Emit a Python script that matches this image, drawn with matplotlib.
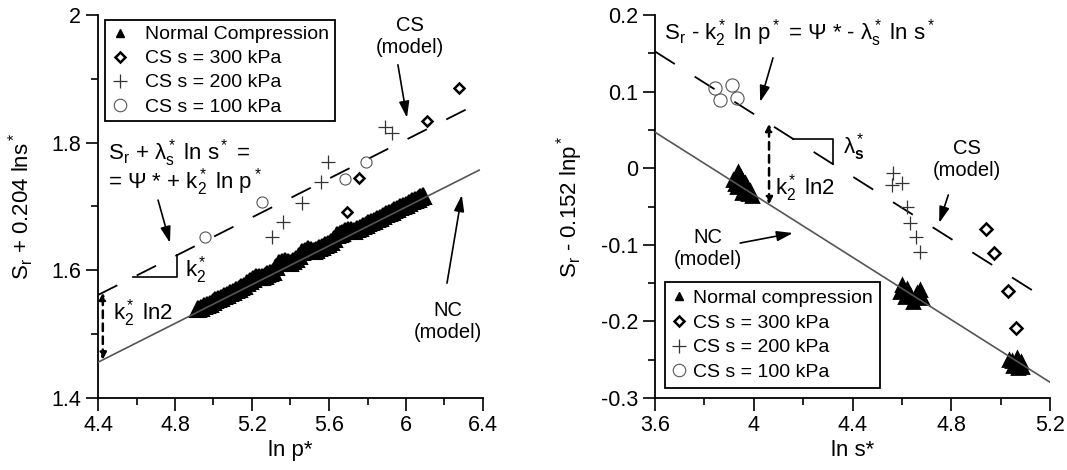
import matplotlib
matplotlib.use('Agg')
import matplotlib.pyplot as plt
from matplotlib.lines import Line2D
from matplotlib.ticker import MultipleLocator, FixedLocator, FixedFormatter
import numpy as np

plt.rcParams['font.family'] = ['Liberation Sans', 'DejaVu Sans']
plt.rcParams['mathtext.fontset'] = 'custom'
plt.rcParams['mathtext.rm'] = 'Liberation Sans'
plt.rcParams['mathtext.it'] = 'Liberation Sans'
plt.rcParams['mathtext.bf'] = 'Liberation Sans:bold'
plt.rcParams['mathtext.default'] = 'regular'
plt.rcParams['axes.unicode_minus'] = False

# ---------------- LEFT PANEL DATA ----------------
left_nc_lnp = [4.920, 4.935, 4.950, 4.965, 4.980, 4.995, 5.010, 5.025, 5.040, 5.055,
               5.070, 5.085, 5.100, 5.115, 5.130, 5.145, 5.160, 5.175, 5.190, 5.205,
               5.220, 5.235, 5.250, 5.265, 5.280, 5.295, 5.310, 5.325, 5.340, 5.355,
               5.370, 5.385, 5.400, 5.415, 5.430, 5.445, 5.460, 5.475, 5.490, 5.505,
               5.520, 5.535, 5.550, 5.565, 5.580, 5.595, 5.610, 5.625, 5.640, 5.655,
               5.670, 5.685, 5.700, 5.715, 5.730, 5.745, 5.760, 5.775, 5.790, 5.805,
               5.820, 5.835, 5.850, 5.865, 5.880, 5.895, 5.910, 5.925, 5.940, 5.955,
               5.970, 5.985, 6.000, 6.015, 6.030, 6.045, 6.060, 6.075, 6.090]
left_nc_y = [1.539, 1.5415, 1.544, 1.546, 1.548, 1.5505, 1.553, 1.555, 1.557, 1.5595,
             1.562, 1.564, 1.566, 1.5685, 1.571, 1.5735, 1.576, 1.580, 1.584, 1.5865,
             1.589, 1.589, 1.589, 1.5915, 1.594, 1.596, 1.598, 1.6045, 1.611, 1.6125,
             1.614, 1.613, 1.612, 1.6145, 1.617, 1.6225, 1.628, 1.6305, 1.633, 1.6315,
             1.630, 1.6325, 1.635, 1.637, 1.639, 1.6415, 1.644, 1.6495, 1.655, 1.657,
             1.659, 1.661, 1.663, 1.6625, 1.662, 1.6645, 1.667, 1.669, 1.671, 1.6735,
             1.676, 1.678, 1.680, 1.6825, 1.685, 1.6875, 1.690, 1.692, 1.694, 1.6965,
             1.699, 1.701, 1.703, 1.7055, 1.708, 1.710, 1.712, 1.7145, 1.717]
left_cs300_lnp = [6.275, 6.109, 5.756, 5.694]
left_cs300_y = [1.886, 1.834, 1.745, 1.691]
left_cs200_lnp = [5.891, 5.927, 5.595, 5.558, 5.460, 5.361, 5.304]
left_cs200_y = [1.8245, 1.815, 1.770, 1.738, 1.705, 1.676, 1.652]
left_cs100_lnp = [5.792, 5.683, 5.252, 4.956]
left_cs100_y = [1.770, 1.743, 1.707, 1.652]
left_k2 = 0.152
left_nc_y0 = 1.456          # NC model value at ln p* = 4.4
left_xticks = [4.4, 4.8, 5.2, 5.6, 6.0, 6.4]
left_xticklabels = ['4.4', '4.8', '5.2', '5.6', '6', '6.4']
left_yticks = [1.4, 1.6, 1.8, 2.0]
left_yticklabels = ['1.4', '1.6', '1.8', '2']

# ---------------- RIGHT PANEL DATA ----------------
right_nc_lns = [3.936, 3.916, 3.953, 3.932, 3.973, 3.953, 3.993, 3.977, 3.965,
                3.945, 3.925, 3.960, 3.985,
                4.601, 4.674, 4.593, 4.634, 4.682, 4.646, 4.613,
                4.620, 4.660, 4.605,
                5.035, 5.067, 5.084, 5.051, 5.088, 5.071, 5.045, 5.075]
right_nc_y = [-0.005, -0.015, -0.015, -0.0245, -0.0245, -0.032, -0.036, -0.034, -0.019,
              -0.010, -0.020, -0.027, -0.030,
              -0.1525, -0.159, -0.1616, -0.1655, -0.1695, -0.1747, -0.168,
              -0.158, -0.163, -0.160,
              -0.2504, -0.2478, -0.253, -0.2582, -0.2595, -0.2608, -0.252, -0.254]
right_cs300_lns = [4.942, 4.975, 5.030, 5.063]
right_cs300_y = [-0.0794, -0.111, -0.1603, -0.2082]
right_cs200_lns = [4.565, 4.561, 4.599, 4.621, 4.634, 4.658, 4.674]
right_cs200_y = [-0.0063, -0.0213, -0.0197, -0.051, -0.0709, -0.0898, -0.109]
right_cs100_lns = [3.843, 3.912, 3.863, 3.932]
right_cs100_y = [0.1047, 0.1086, 0.089, 0.0916]
right_lams = 0.204
right_nc_y0 = 0.047         # NC model value at ln s* = 3.6
right_xticks = [3.6, 4.0, 4.4, 4.8, 5.2]
right_xticklabels = ['3.6', '4', '4.4', '4.8', '5.2']
right_yticks = [-0.3, -0.2, -0.1, 0.0, 0.1, 0.2]
right_yticklabels = ['-0.3', '-0.2', '-0.1', '0', '0.1', '0.2']

LN2 = np.log(2)

fig = plt.figure(figsize=(10.67, 4.70), dpi=100)
axL = fig.add_axes([98/1067, 72/470, 385/1067, 383/470])
axR = fig.add_axes([655/1067, 72/470, 395/1067, 383/470])

TICKFS = 15.5
LABFS = 16
EQFS = 16
MODFS = 14.5
LEGFS = 14

def style_axes(ax):
    for s in ['top', 'right']:
        ax.spines[s].set_visible(False)
    for s in ['left', 'bottom']:
        ax.spines[s].set_linewidth(1.3)
    ax.tick_params(which='major', direction='out', length=9, width=1.2, labelsize=TICKFS, pad=3)
    ax.tick_params(which='minor', direction='out', length=5, width=1.2)

arrow_kw = dict(arrowstyle='-|>,head_length=0.7,head_width=0.22', color='k', lw=1.2,
                mutation_scale=14, shrinkA=0, shrinkB=0)
dash_arrow_kw = dict(arrowstyle='<|-|>,head_length=0.4,head_width=0.2', color='k', lw=1.8,
                     linestyle=(0, (3, 2.2)), mutation_scale=10, shrinkA=0, shrinkB=0)

def make_handles():
    return [
        Line2D([], [], ls='none', marker='^', ms=6, color='k'),
        Line2D([], [], ls='none', marker='D', ms=5, mfc='none', mec='k', mew=1.8),
        Line2D([], [], ls='none', marker='+', ms=10, color='#333', mew=0.9),
        Line2D([], [], ls='none', marker='o', ms=9, mfc='none', mec='#555', mew=0.8),
    ]

# ================= LEFT =================
ax = axL
style_axes(ax)
xl = np.array([4.4, 6.38])
ax.plot(xl, left_nc_y0 + left_k2 * (xl - 4.4), color='#555', lw=1.2, zorder=3)
xc = np.array([4.4, 6.4])
ax.plot(xc, left_nc_y0 + left_k2 * LN2 + left_k2 * (xc - 4.4), color='k', lw=1.3,
        dashes=(12, 12), zorder=2)
ax.plot(left_nc_lnp, left_nc_y, ls='none', marker='^', ms=11.5, color='k', mew=1.5,
        mec='k', zorder=2)
ax.plot(left_cs300_lnp, left_cs300_y, ls='none', marker='D', ms=5.5, mfc='none', mec='k', mew=1.8)
ax.plot(left_cs200_lnp, left_cs200_y, ls='none', marker='+', ms=10, color='#333', mew=0.9)
ax.plot(left_cs100_lnp, left_cs100_y, ls='none', marker='o', ms=8, mfc='none', mec='#555', mew=0.8)

ax.set_xlim(4.4, 6.4)
ax.set_ylim(1.4, 2.0)
ax.xaxis.set_major_locator(FixedLocator(left_xticks))
ax.xaxis.set_major_formatter(FixedFormatter(left_xticklabels))
ax.yaxis.set_major_locator(FixedLocator(left_yticks))
ax.yaxis.set_major_formatter(FixedFormatter(left_yticklabels))
ax.xaxis.set_minor_locator(MultipleLocator(0.2))
ax.yaxis.set_minor_locator(MultipleLocator(0.1))
ax.set_xlabel('ln p*', fontsize=LABFS)
ax.set_ylabel('S$_r$ + 0.204 lns$^*$', fontsize=LABFS)
ax.xaxis.set_label_coords(0.5, -0.11)
ax.yaxis.set_label_coords(-0.16, 0.5)

leg = ax.legend(make_handles(), ['Normal Compression', 'CS s = 300 kPa', 'CS s = 200 kPa',
                                 'CS s = 100 kPa'],
                loc='upper left', bbox_to_anchor=(0.018, 0.987), fontsize=LEGFS,
                frameon=True, fancybox=False, edgecolor='k', framealpha=1,
                handlelength=1.0, handletextpad=0.75, borderpad=0.3, labelspacing=0.33,
                borderaxespad=0)
leg.get_frame().set_linewidth(1.3)

# annotations
ax.text(6.02, 1.966, 'CS\n(model)', ha='center', va='center', fontsize=MODFS)
ax.annotate('', xy=(6.005, 1.839), xytext=(5.958, 1.922), arrowprops=arrow_kw)
ax.text(6.218, 1.52, 'NC\n(model)', ha='center', va='center', fontsize=MODFS)
ax.annotate('', xy=(6.29, 1.718), xytext=(6.213, 1.58), arrowprops=arrow_kw)
ax.text(4.452, 1.784, 'S$_r$ + λ$_s^*$ ln s$^*$ =', ha='left', va='center', fontsize=EQFS)
ax.text(4.452, 1.738, '= Ψ * + k$_2^*$ ln p$^*$', ha='left', va='center', fontsize=EQFS)
ax.annotate('', xy=(4.774, 1.643), xytext=(4.712, 1.71), arrowprops=arrow_kw)
# slope triangle
csL = lambda x: left_nc_y0 + left_k2 * LN2 + left_k2 * (x - 4.4)
tx0, tx1 = 4.582, 4.81
ax.plot([tx0, tx1, tx1], [csL(tx0), csL(tx0), csL(tx1)], color='k', lw=1.2)
ax.text(4.85, 1.60, 'k$_2^*$', ha='left', va='center', fontsize=EQFS)
# k2 ln2 arrow
vx = 4.425
ax.annotate('', xy=(vx, csL(vx)), xytext=(vx, left_nc_y0 + left_k2 * (vx - 4.4)),
            arrowprops=dash_arrow_kw)
ax.text(4.478, 1.533, 'k$_2^*$ ln2', ha='left', va='center', fontsize=EQFS)

# ================= RIGHT =================
ax = axR
style_axes(ax)
xr = np.array([3.6, 5.2])
ax.plot(xr, right_nc_y0 - right_lams * (xr - 3.6), color='#555', lw=1.2, zorder=3)
xcr = np.array([3.6, 5.15])
ax.plot(xcr, right_nc_y0 + left_k2 * LN2 - right_lams * (xcr - 3.6), color='k', lw=1.3,
        dashes=(13, 13), zorder=2)
ax.plot(right_nc_lns, right_nc_y, ls='none', marker='^', ms=8, color='k', mew=2,
        mec='k', zorder=2)
ax.plot(right_cs300_lns, right_cs300_y, ls='none', marker='D', ms=6, mfc='none', mec='k', mew=1.8)
ax.plot(right_cs200_lns, right_cs200_y, ls='none', marker='+', ms=10, color='#333', mew=0.9)
ax.plot(right_cs100_lns, right_cs100_y, ls='none', marker='o', ms=9.5, mfc='none', mec='#555', mew=0.8)

ax.set_xlim(3.6, 5.2)
ax.set_ylim(-0.3, 0.2)
ax.xaxis.set_major_locator(FixedLocator(right_xticks))
ax.xaxis.set_major_formatter(FixedFormatter(right_xticklabels))
ax.yaxis.set_major_locator(FixedLocator(right_yticks))
ax.yaxis.set_major_formatter(FixedFormatter(right_yticklabels))
ax.xaxis.set_minor_locator(MultipleLocator(0.2))
ax.yaxis.set_minor_locator(MultipleLocator(0.05))
ax.set_xlabel('ln s*', fontsize=LABFS)
ax.set_ylabel('S$_r$ - 0.152 lnp$^*$', fontsize=LABFS)
ax.xaxis.set_label_coords(0.5, -0.11)
ax.yaxis.set_label_coords(-0.177, 0.5)

leg = ax.legend(make_handles(), ['Normal compression', 'CS s = 300 kPa', 'CS s = 200 kPa',
                                 'CS s = 100 kPa'],
                loc='lower left', bbox_to_anchor=(0.025, 0.026), fontsize=LEGFS,
                frameon=True, fancybox=False, edgecolor='k', framealpha=1,
                handlelength=0.8, handletextpad=0.3, borderpad=0.35, labelspacing=0.37,
                borderaxespad=0)
leg.get_frame().set_linewidth(1.3)

ncR = lambda x: right_nc_y0 - right_lams * (x - 3.6)
csR = lambda x: right_nc_y0 + left_k2 * LN2 - right_lams * (x - 3.6)
ax.text(4.184, 0.1765, 'S$_r$ - k$_2^*$ ln p$^*$ = Ψ * - λ$_s^*$ ln s$^*$', ha='center',
        va='center', fontsize=EQFS)
ax.annotate('', xy=(4.026, 0.0864), xytext=(4.078, 0.144), arrowprops=arrow_kw)
vxr = 4.062
ax.annotate('', xy=(vxr, csR(vxr)), xytext=(vxr, ncR(vxr)), arrowprops=dash_arrow_kw)
ax.text(4.086, -0.026, 'k$_2^*$ ln2', ha='left', va='center', fontsize=EQFS)
t0, t1 = 4.159, 4.322
ax.plot([t0, t1, t1], [csR(t0), csR(t0), csR(t1)], color='k', lw=1.2)
ax.text(4.362, 0.0277, r'λ$_\mathbf{s}^*$', ha='left', va='center', fontsize=EQFS)
ax.text(4.865, 0.011, 'CS\n(model)', ha='center', va='center', fontsize=MODFS)
ax.annotate('', xy=(4.751, -0.0715), xytext=(4.788, -0.035), arrowprops=arrow_kw)
ax.text(3.815, -0.105, 'NC\n(model)', ha='center', va='center', fontsize=MODFS)
ax.annotate('', xy=(4.159, -0.0846), xytext=(3.945, -0.0977), arrowprops=arrow_kw)

fig.savefig('out.png', dpi=100)
